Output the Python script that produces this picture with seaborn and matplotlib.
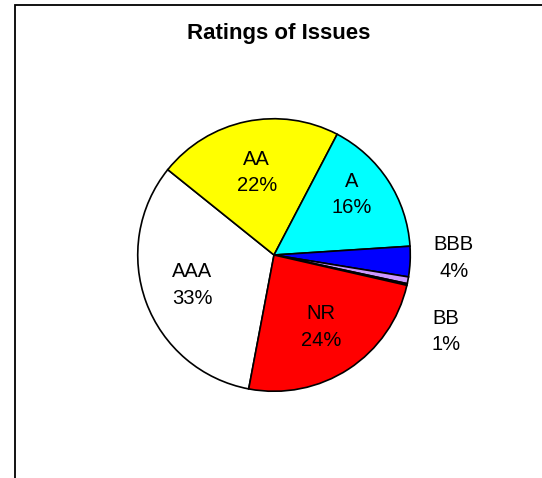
import matplotlib
matplotlib.use("Agg")
import matplotlib.pyplot as plt
import numpy as np
import seaborn as sns
from matplotlib.patches import Rectangle

# Data (share of issues, percent) - order as drawn clockwise from AAA
ratings = ["AAA", "AA", "A", "BBB", "BB", "B", "NR"]
shares = [32.8, 21.9, 16.3, 3.6, 0.8, 0.2, 24.4]
colors = ["#FFFFFF", "#FFFF00", "#00FFFF", "#0000FF", "#CC99FF", "#000000", "#FF0000"]
shown = ["AAA", "AA", "A", "BBB", "BB", "NR"]

sns.set_theme(style="white")
plt.rcParams["font.family"] = ["Liberation Sans", "DejaVu Sans"]
plt.rcParams["text.color"] = "black"

fig = plt.figure(figsize=(5.42, 4.78), dpi=100)
fig.patch.set_facecolor("white")

# frame of the chart area (right/bottom edges are cut off in the original)
fig.patches.append(Rectangle((15 / 542, -0.1), 1.2, 1.1 - 5 / 478,
                             transform=fig.transFigure, fill=False,
                             edgecolor="black", linewidth=1.3))

cx, cy, r = 274, 255, 139
ax = fig.add_axes([(cx - r) / 542, (478 - cy - r) / 478, 2 * r / 542, 2 * r / 478])
wedges, _ = ax.pie(shares, colors=colors, startangle=259.3, counterclock=False,
                   radius=1, wedgeprops=dict(edgecolor="black", linewidth=1.2))
ax.set_xlim(-1.02, 1.02)
ax.set_ylim(-1.02, 1.02)
ax.set_aspect("equal")
ax.axis("off")

# label distance / angle tweaks (outside labels for the thin slices)
inside = {"AAA": (0.64, 0), "AA": (0.62, 0), "A": (0.72, 5), "NR": (0.63, 0)}
outside = {"BBB": (1.32, -1.0), "BB": (1.38, -24.0)}

for w, name, val in zip(wedges, ratings, shares):
    if name not in shown:
        continue
    txt = f"{name}\n{val:.0f}%"
    if name in inside:
        d, shift = inside[name]
        ang = np.deg2rad((w.theta1 + w.theta2) / 2 + shift)
    else:
        d, a = outside[name]
        ang = np.deg2rad(a)
    ax.text(d * np.cos(ang), d * np.sin(ang), txt, ha="center", va="center",
            fontsize=14.5, linespacing=1.5, color="black")

fig.text(279 / 542, 1 - 34 / 478, "Ratings of Issues", ha="center", va="center",
         fontsize=16, fontweight="bold", color="black")

fig.savefig("out.png", dpi=100)
